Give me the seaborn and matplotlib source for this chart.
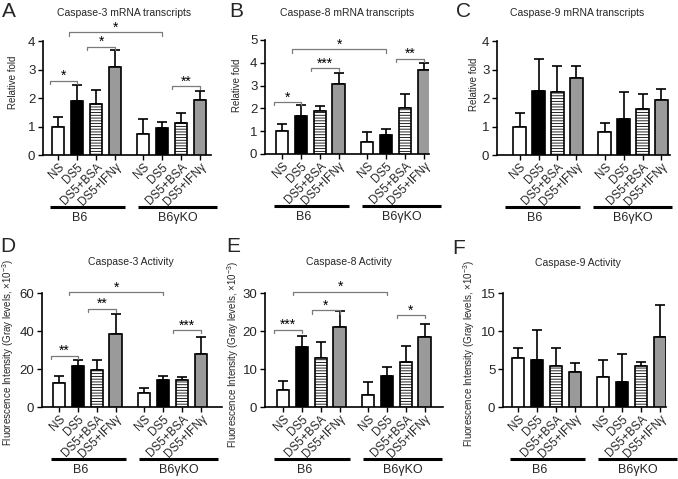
import pandas as pd
import seaborn as sns
import matplotlib.pyplot as plt

# Categories
treatments = ['NS', 'DS5', 'DS5+BSA', 'DS5+IFNγ']
groups = ['B6', 'B6γKO']
positions = [0, 1, 2, 3, 4.5, 5.5, 6.5, 7.5]

# Bar heights (B6 x4, then B6γKO x4) and upper end of the error bar
a_mean = [1.0, 1.9, 1.8, 3.1, 0.72, 0.95, 1.12, 1.93]
a_top = [1.33, 2.45, 2.28, 3.67, 1.25, 1.17, 1.46, 2.26]
b_mean = [1.0, 1.65, 1.89, 3.08, 0.53, 0.84, 2.03, 3.67]
b_top = [1.33, 2.14, 2.12, 3.56, 0.96, 1.1, 2.64, 3.97]
c_mean = [1.0, 2.25, 2.2, 2.7, 0.79, 1.27, 1.6, 1.93]
c_top = [1.47, 3.36, 3.12, 3.11, 1.13, 2.21, 2.15, 2.33]
d_mean = [12.7, 21.4, 19.7, 38.4, 7.4, 14.0, 14.4, 28.0]
d_top = [16.2, 24.9, 24.5, 48.8, 9.8, 16.1, 15.9, 37.0]
e_mean = [4.4, 15.9, 12.8, 21.0, 3.2, 8.1, 11.9, 18.5]
e_top = [6.9, 18.7, 17.0, 25.2, 6.5, 10.6, 16.1, 21.8]
f_mean = [6.5, 6.2, 5.35, 4.65, 3.9, 3.35, 5.43, 9.2]
f_top = [7.75, 10.1, 7.7, 5.8, 6.2, 6.95, 5.95, 13.4]

# Significance brackets: (bar i, bar j, height, label)
a_sig = [(0, 1, 2.6, '*'), (2, 3, 3.8, '*'), (1, 5, 4.3, '*'), (6, 7, 2.42, '**')]
b_sig = [(0, 1, 2.28, '*'), (2, 3, 3.77, '***'), (1, 5, 4.6, '*'), (6, 7, 4.18, '**')]
c_sig = []
d_sig = [(0, 1, 27.1, '**'), (2, 3, 51.8, '**'), (1, 5, 60.5, '*'), (6, 7, 40.5, '***')]
e_sig = [(0, 1, 20.3, '***'), (2, 3, 25.5, '*'), (1, 5, 30.3, '*'), (6, 7, 24.2, '*')]
f_sig = []

sns.set_style('ticks')
plt.rcParams['font.family'] = ['Liberation Sans', 'DejaVu Sans']
plt.rcParams['hatch.linewidth'] = 0.6
plt.rcParams['mathtext.fontset'] = 'custom'
plt.rcParams['mathtext.rm'] = 'Liberation Sans'

W, H = 678, 479
fig = plt.figure(figsize=(W / 100, H / 100), dpi=100)

palette = {'NS': 'white', 'DS5': 'black', 'DS5+BSA': 'white', 'DS5+IFNγ': '#9a9a9a'}
fl_label = r'Fluorescence Intensity (Gray levels, $\times10^{-3}$)'

panels = [
    # letter, title, data, brackets, y scale, pixel layout of axes and texts
    dict(letter='A', title='Caspase-3 mRNA transcripts', mean=a_mean, top=a_top, sig=a_sig,
         ymax=4, yticks=[0, 1, 2, 3, 4], ylabel='Relative fold', left=43, ytop=41, xlim=(-0.8, 8.1),
         lpos=(2, 2), tpos=(124, 13), ypos=(13, 82), shift=0),
    dict(letter='B', title='Caspase-8 mRNA transcripts', mean=b_mean, top=b_top, sig=b_sig,
         ymax=5, yticks=[0, 1, 2, 3, 4, 5], ylabel='Relative fold', left=265, ytop=40, xlim=(-0.9, 7.8),
         lpos=(229, 2), tpos=(347, 13), ypos=(237, 85), shift=0),
    dict(letter='C', title='Caspase-9 mRNA transcripts', mean=c_mean, top=c_top, sig=c_sig,
         ymax=4, yticks=[0, 1, 2, 3, 4], ylabel='Relative fold', left=497, ytop=41, xlim=(-1.2, 7.95),
         lpos=(456, 2), tpos=(577, 13), ypos=(474, 84), shift=-0.35),
    dict(letter='D', title='Caspase-3 Activity', mean=d_mean, top=d_top, sig=d_sig,
         ymax=60, yticks=[0, 20, 40, 60], ylabel=fl_label, left=42, ytop=293, xlim=(-0.9, 8.6),
         lpos=(0, 237), tpos=(131, 262), ypos=(8, 352), shift=0),
    dict(letter='E', title='Caspase-8 Activity', mean=e_mean, top=e_top, sig=e_sig,
         ymax=30, yticks=[0, 10, 20, 30], ylabel=fl_label, left=265, ytop=293, xlim=(-0.95, 8.45),
         lpos=(226, 237), tpos=(349, 262), ypos=(233, 354), shift=0),
    dict(letter='F', title='Caspase-9 Activity', mean=f_mean, top=f_top, sig=f_sig,
         ymax=15, yticks=[0, 5, 10, 15], ylabel=fl_label, left=503, ytop=293, xlim=(-0.8, 7.85),
         lpos=(452, 239), tpos=(578, 263), ypos=(469, 353), shift=0),
]

px_per_unit = 18.9
ax_h = 114

for p in panels:
    width_px = (p['xlim'][1] - p['xlim'][0]) * px_per_unit
    ax = fig.add_axes([p['left'] / W, 1 - (p['ytop'] + ax_h) / H, width_px / W, ax_h / H])

    df = pd.DataFrame({'pos': positions, 'value': p['mean'],
                       'treatment': treatments * 2})
    sns.barplot(data=df, x='pos', y='value', hue='treatment', hue_order=treatments,
                palette=palette, native_scale=True, dodge=False, width=0.66,
                saturation=1, errorbar=None, legend=False, edgecolor='black',
                linewidth=1.2, ax=ax, zorder=3)
    for patch in ax.containers[2]:
        patch.set_hatch('------')

    # upper error bars only
    errs = [t - m for m, t in zip(p['mean'], p['top'])]
    ax.errorbar(positions, p['mean'], yerr=[[0] * len(errs), errs], fmt='none',
                ecolor='black', elinewidth=1.2, capsize=3.5, capthick=1.2, zorder=2)

    ax.set_xlim(*p['xlim'])
    ax.set_ylim(0, p['ymax'])
    ax.set_yticks(p['yticks'])
    ax.set_yticklabels([str(v) for v in p['yticks']], fontsize=9.5)
    ax.set_xticks(positions)
    ax.set_xticklabels(treatments * 2, rotation=45, ha='right', rotation_mode='anchor',
                       fontsize=8.5)
    ax.tick_params(axis='both', length=3.5, width=1, pad=2, color='black')
    ax.tick_params(axis='x', pad=1)
    ax.set_xlabel('')
    ax.set_ylabel('')
    for s in ['top', 'right']:
        ax.spines[s].set_visible(False)
    for s in ['left', 'bottom']:
        ax.spines[s].set_linewidth(1.2)
        ax.spines[s].set_color('black')

    # significance brackets
    drop = p['ymax'] * 0.03
    for i, j, y, lab in p['sig']:
        x1, x2 = positions[i] - 0.45, positions[j]
        ax.plot([x1, x1, x2, x2], [y - drop, y, y, y - drop], color='#7a7a7a',
                lw=0.9, clip_on=False, zorder=4)
        ax.text((x1 + x2) / 2, y - p['ymax'] * 0.02, lab, ha='center', va='bottom',
                fontsize=10, color='black', clip_on=False)

    # group underlines and labels
    tr = ax.get_xaxis_transform()
    sh = p['shift']
    for (x1, x2), xl, g in zip([(-0.45, 3.55), (4.25, 8.4)], [1.15, 6.35], groups):
        ax.plot([x1 + sh, x2 + sh], [-0.456, -0.456], color='black', lw=2.2,
                transform=tr, clip_on=False, solid_capstyle='butt')
        ax.text(xl + sh, -0.5, g, transform=tr, ha='center', va='top', fontsize=9)

    fig.text(p['lpos'][0] / W, 1 - p['lpos'][1] / H, p['letter'], fontsize=15,
             ha='left', va='top')
    fig.text(p['tpos'][0] / W, 1 - p['tpos'][1] / H, p['title'], fontsize=7.5,
             ha='center', va='center')
    fig.text(p['ypos'][0] / W, 1 - p['ypos'][1] / H, p['ylabel'], fontsize=7,
             rotation=90, ha='center', va='center')

fig.savefig('out.png', dpi=100)
